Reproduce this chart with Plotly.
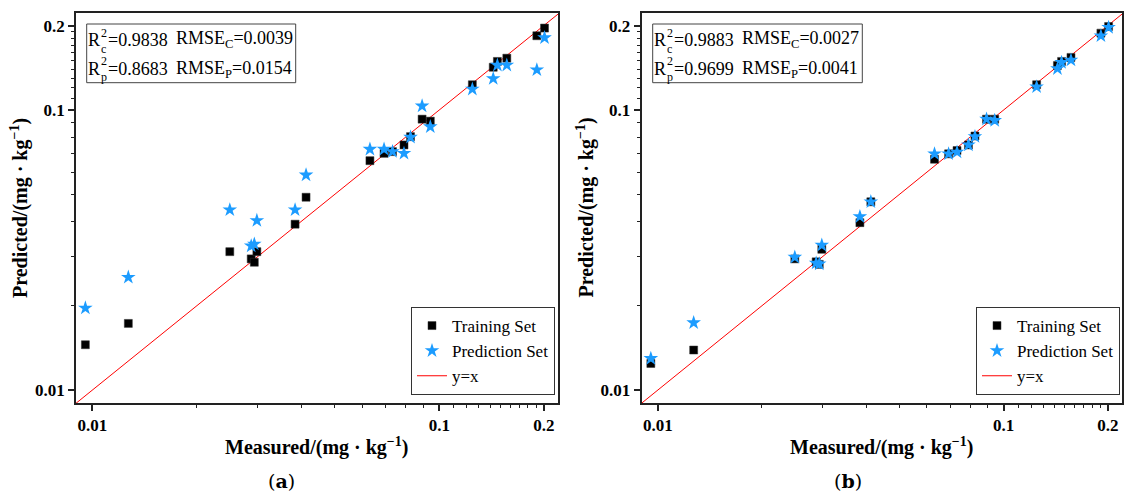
import plotly.graph_objects as go

# ---------------- data ----------------
measured = [0.00955, 0.0127, 0.0249, 0.0287, 0.0293, 0.0298, 0.0384, 0.0413, 0.0631,
            0.0693, 0.0733, 0.0791, 0.0826, 0.0892, 0.0942, 0.1245, 0.143, 0.147,
            0.1565, 0.191, 0.201]

train_pred_a = [0.01452, 0.0173, 0.0312, 0.0294, 0.0286, 0.0312, 0.0391, 0.0488, 0.0659,
                0.0700, 0.0710, 0.0750, 0.0803, 0.0927, 0.0912, 0.123, 0.142, 0.149,
                0.153, 0.184, 0.196]
test_pred_a = [0.01963, 0.02527, 0.0440, 0.0327, 0.0332, 0.0403, 0.0440, 0.0586, 0.0724,
               0.0724, 0.0710, 0.0700, 0.0799, 0.1033, 0.0871, 0.1186, 0.1294, 0.1445,
               0.1445, 0.139, 0.181]

train_pred_b = [0.01245, 0.0139, 0.0294, 0.0287, 0.0281, 0.0318, 0.0396, 0.0470, 0.0667,
                0.0697, 0.0716, 0.0750, 0.0807, 0.0927, 0.0927, 0.123, 0.144, 0.149,
                0.154, 0.188, 0.1985]
test_pred_b = [0.01297, 0.0174, 0.0298, 0.0284, 0.0282, 0.0329, 0.0416, 0.0470, 0.0697,
               0.0697, 0.0707, 0.0750, 0.0803, 0.0927, 0.0917, 0.1209, 0.1404, 0.1477,
               0.1506, 0.1838, 0.197]

stats_a = {"r2c": "0.9838", "rmsec": "0.0039", "r2p": "0.8683", "rmsep": "0.0154"}
stats_b = {"r2c": "0.9883", "rmsec": "0.0027", "r2p": "0.9699", "rmsep": "0.0041"}

tick_vals = [0.01, 0.1, 0.2]
tick_text = ["0.01", "0.1", "0.2"]
minor_vals = [0.02, 0.03, 0.04, 0.05, 0.06, 0.07, 0.08, 0.09,
              0.11, 0.12, 0.13, 0.14, 0.15, 0.16, 0.17, 0.18, 0.19]
panel_labels = ["a", "b"]
series_names = ["Training Set", "Prediction Set", "y=x"]

# ---------------- layout helpers ----------------
W, H = 1124, 497
SERIF = "Liberation Serif, Times New Roman, serif"
BLUE = "#1C9CFF"


def fx(x):
    return x / W


def fy(y):
    return 1 - y / H


x_range = [-2.047, -0.658]
y_range = [-2.046, -0.654]
panels = [
    dict(x0=76, x1=558, box0=86.7, box1=295.7, leg_right=555, lab_x=281),
    dict(x0=641.5, x1=1122, box0=652.7, box1=862.3, leg_right=1120, lab_x=848),
]
plot_top, plot_bottom = 13, 403

fig = go.Figure()

annotations = []
shapes = []

for i, (p, trn, tst, st) in enumerate(zip(panels, [train_pred_a, train_pred_b],
                                         [test_pred_a, test_pred_b], [stats_a, stats_b])):
    suffix = "" if i == 0 else str(i + 1)
    xa, ya = "x" + suffix, "y" + suffix
    leg = "legend" + suffix
    line_x = [10 ** (x_range[0] - 0.1), 10 ** (x_range[1] + 0.1)]
    fig.add_trace(go.Scatter(x=line_x, y=line_x, mode="lines", name=series_names[2],
                             line=dict(color="#FF0000", width=1), xaxis=xa, yaxis=ya,
                             legend=leg, legendrank=3))
    fig.add_trace(go.Scatter(x=measured, y=trn, mode="markers", name=series_names[0],
                             marker=dict(symbol="square", size=8, color="black",
                                         line=dict(color="#333333", width=0.5)),
                             xaxis=xa, yaxis=ya, legend=leg, legendrank=1))
    fig.add_trace(go.Scatter(x=measured, y=tst, mode="markers", name=series_names[1],
                             marker=dict(symbol="star", size=11, color=BLUE,
                                         line=dict(width=0)),
                             xaxis=xa, yaxis=ya, legend=leg, legendrank=2))

    axis_common = dict(type="log", showline=True, mirror=True, linecolor="#222222",
                       linewidth=1.5, ticks="outside", ticklen=6, tickwidth=1.5,
                       tickcolor="#222222", tickvals=tick_vals, ticktext=tick_text,
                       tickfont=dict(family=SERIF, size=17, color="black", weight="bold"),
                       showgrid=False, zeroline=False,
                       minor=dict(tickvals=minor_vals, ticks="outside", ticklen=3,
                                  tickwidth=1.2, tickcolor="#222222", showgrid=False))
    fig.layout["xaxis" + suffix] = dict(axis_common, range=x_range,
                                        domain=[fx(p["x0"]), fx(p["x1"])], anchor=ya)
    fig.layout["yaxis" + suffix] = dict(axis_common, range=y_range,
                                        domain=[fy(plot_bottom), fy(plot_top)], anchor=xa)

    fig.layout[leg] = dict(x=fx(p["leg_right"]), xanchor="right", y=fy(395),
                           yanchor="bottom", bgcolor="white", bordercolor="#333333",
                           borderwidth=1, font=dict(family=SERIF, size=17, color="black"),
                           tracegroupgap=0)

    # stats box
    shapes.append(dict(type="rect", xref="paper", yref="paper",
                       x0=fx(p["box0"]), x1=fx(p["box1"]), y0=fy(82.7), y1=fy(24),
                       line=dict(color="#444444", width=1), fillcolor="rgba(0,0,0,0)"))
    b0 = p["box0"]
    for ly, sub, r2, rsub, rmse in [(40, "c", st["r2c"], "C", st["rmsec"]),
                                    (69, "p", st["r2p"], "P", st["rmsep"])]:
        annotations.append(dict(text="R", x=fx(b0 - 0.5), y=fy(ly), xref="paper", yref="paper",
                                xanchor="left", yanchor="middle", showarrow=False,
                                font=dict(family=SERIF, size=18, color="black")))
        annotations.append(dict(text="2<br>" + sub, x=fx(b0 + 12.5), y=fy(ly + 0.5),
                                xref="paper", yref="paper", xanchor="left", align="left",
                                yanchor="middle", showarrow=False,
                                font=dict(family=SERIF, size=12, color="black")))
        annotations.append(dict(text="=" + r2, x=fx(b0 + 19.5), y=fy(ly), xref="paper",
                                yref="paper", xanchor="left", yanchor="middle",
                                showarrow=False,
                                font=dict(family=SERIF, size=18, color="black")))
        annotations.append(dict(text="RMSE<sub>" + rsub + "</sub>=" + rmse, x=fx(b0 + 87.5),
                                y=fy(ly), xref="paper", yref="paper", xanchor="left",
                                yanchor="middle", showarrow=False,
                                font=dict(family=SERIF, size=18, color="black")))

    # axis titles
    cx = (p["x0"] + p["x1"]) / 2
    annotations.append(dict(text="<b>Measured/(mg · kg<sup>−1</sup>)</b>", x=fx(cx),
                            y=fy(446), xref="paper", yref="paper", xanchor="center",
                            yanchor="middle", showarrow=False,
                            font=dict(family=SERIF, size=20, color="black")))
    annotations.append(dict(text="<b>Predicted/(mg · kg<sup>−1</sup>)</b>",
                            x=fx(p["x0"] - 57), y=fy((plot_top + plot_bottom) / 2),
                            xref="paper", yref="paper", xanchor="center", yanchor="middle",
                            textangle=-90, showarrow=False,
                            font=dict(family=SERIF, size=20, color="black")))
    annotations.append(dict(text="(<b>" + panel_labels[i] + "</b>)", x=fx(p["lab_x"]),
                            y=fy(481), xref="paper", yref="paper", xanchor="center",
                            yanchor="middle", showarrow=False,
                            font=dict(family="DejaVu Serif, serif", size=19, color="black")))

fig.update_layout(width=W, height=H, margin=dict(l=0, r=0, t=0, b=0),
                  plot_bgcolor="white", paper_bgcolor="white",
                  annotations=annotations, shapes=shapes, showlegend=True)

# remove the default 8px page margin so the figure fills the window exactly
fig.write_html("out.html", config={"displayModeBar": False},
               post_script="document.body.style.margin='0';"
                           "document.body.style.overflow='hidden';")
